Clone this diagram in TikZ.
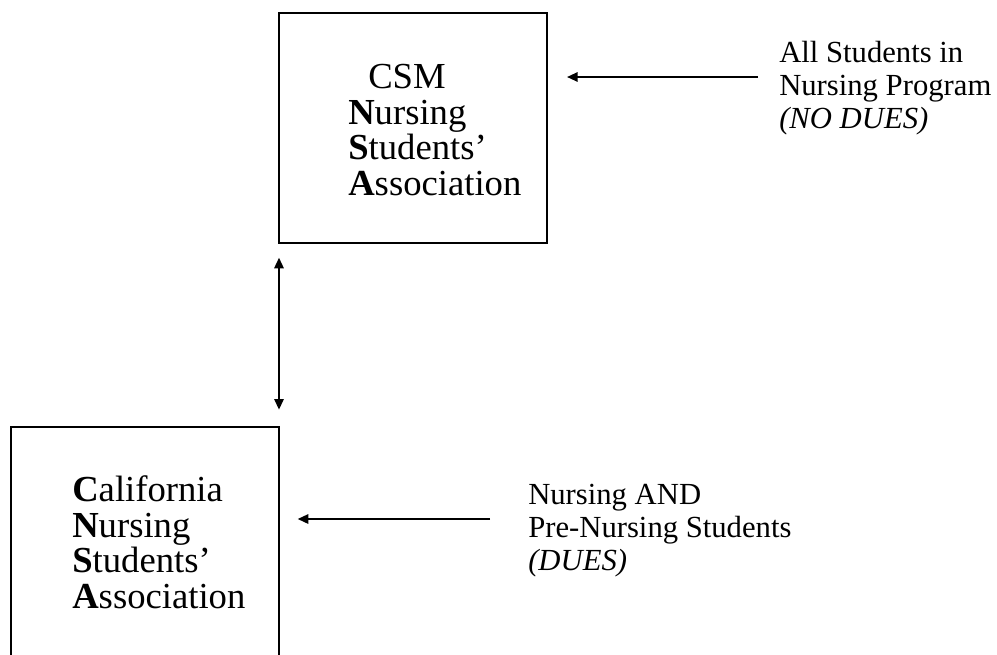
\documentclass[tikz,border=0pt]{standalone}
\usepackage{fontspec}
\setmainfont{Liberation Serif}
\usetikzlibrary{arrows.meta}

\begin{document}
\begin{tikzpicture}[
    x=0.75pt, y=-0.75pt,
    box/.style={draw=black, line width=1.8pt, inner sep=0pt, outer sep=0pt},
    boxtext/.style={font=\fontsize{27.5}{26.6}\selectfont, align=left,
      anchor=base west, inner sep=0pt},
    note/.style={font=\fontsize{23}{24.75}\selectfont, align=left,
      anchor=base west, inner sep=0pt},
    arrow/.style={-{Triangle[length=8pt, width=7pt]}, line width=1.5pt},
    twoway/.style={{Triangle[length=8pt, width=7pt]}-{Triangle[length=8pt, width=7pt]}, line width=1.5pt},
  ]
    \clip (0,0) rectangle (997,654);
    \fill[white] (0,0) rectangle (997,654);
    \node[box, minimum width=201pt, minimum height=172.5pt] (csm) at (413,128) {};
    \node[box, minimum width=201pt, minimum height=177pt] (cnsa) at (145,545) {};
    % texts are placed at the baseline of their last line
    \node[boxtext] (csmname) at (348,195)
      {\hspace{15pt}CSM\\\textbf{N}ursing\\\textbf{S}tudents'\\\textbf{A}ssociation};
    \node[boxtext] (cnsaname) at (72,608)
      {\textbf{C}alifornia\\\textbf{N}ursing\\\textbf{S}tudents'\\\textbf{A}ssociation};
    \node[note] (allnote) at (779,128)
      {All Students in\\Nursing Program\\\textit{(NO DUES)}};
    \node[note] (duesnote) at (528,570)
      {Nursing AND\\Pre-Nursing Students\\\textit{(DUES)}};
    % free ends of the two member arrows
    \coordinate (allin) at (758,77);
    \coordinate (duesin) at (490,519);
    \draw[arrow, shorten >=15pt] (allin) -- (allin -| csm.east);
    \draw[arrow, shorten >=14pt] (duesin) -- (duesin -| cnsa.east);
    \draw[twoway, shorten <=11pt, shorten >=13pt] (csm.south west) -- (cnsa.north east);
  \end{tikzpicture}
\end{document}
